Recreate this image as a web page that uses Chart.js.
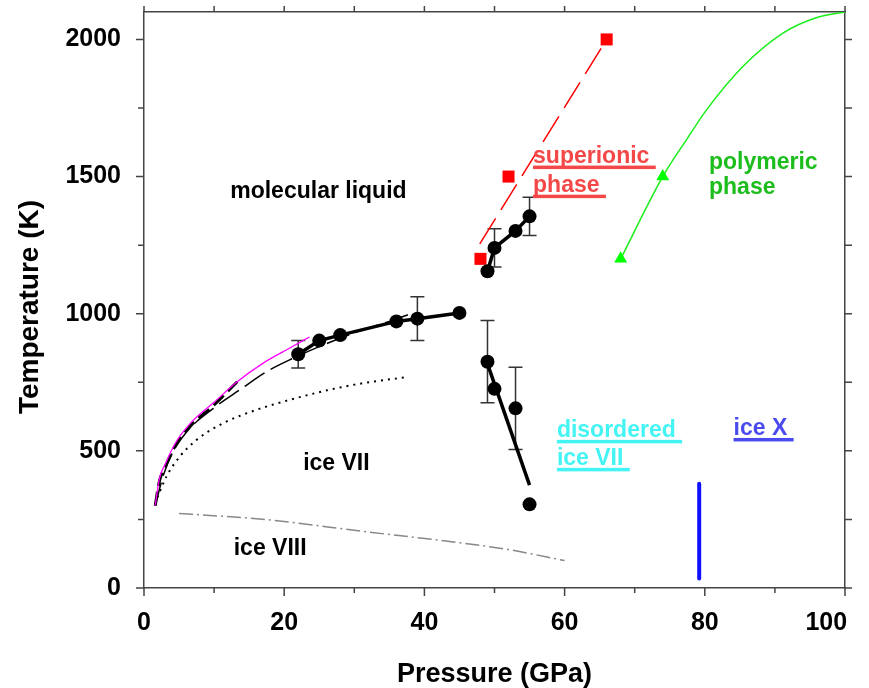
<!DOCTYPE html>
<html>
<head>
<meta charset="utf-8">
<script src="https://cdn.jsdelivr.net/npm/chart.js@4.4.1/dist/chart.umd.min.js"></script>
<style>
  html, body { margin: 0; padding: 0; background: #fff; }
  canvas { display: block; }
</style>
</head>
<body>
<canvas id="c" width="869" height="688"></canvas>
<script>
// pressure (GPa) / temperature (K)

// melting line, black circles with thick line (low pressure part)
var meltP = [22, 25, 28, 36, 39, 45];
var meltT = [852, 902, 922, 972, 982, 1003];
var meltErr = [50, 0, 0, 0, 80, 0];

// upper branch (liquid / superionic)
var upP = [49, 50, 53, 55];
var upT = [1155, 1240, 1302, 1355];
var upErr = [0, 70, 0, 70];

// lower branch (ice VII / disordered ice VII)
var lowP = [49, 50, 53, 55];
var lowT = [825, 726, 655, 305];
var lowErr = [150, 0, 150, 0];
var lowFitP = [49.1, 55];
var lowFitT = [810, 375];

// magenta curve
var magP = [1.6, 2.2, 3.0, 4.4, 6.6, 9.9, 13.2, 17.0, 20.8, 23.6];
var magT = [300, 400, 450, 525, 600, 675, 750, 820, 875, 915];

// heavy dashed curve
var hdP = [1.6, 2.2, 3.0, 4.4, 6.6, 9.9, 13.3];
var hdT = [300, 390, 440, 515, 590, 665, 752];

// thin long-dashed curve
var ldP = [1.6, 2.75, 4.0, 6.1, 9.9, 13.7, 17.5, 21.3, 25, 30, 35, 38.4];
var ldT = [300, 410, 490, 570, 655, 723, 789, 838, 880, 930, 972, 1003];

// dotted curve
var dotP = [1.9, 3.2, 5.1, 7.5, 11.3, 16.1, 20.8, 26.5, 31.3, 37.5];
var dotT = [330, 406, 479, 540, 601, 650, 686, 723, 747, 769];

// ice VII / ice VIII boundary (grey dash-dot)
var g8P = [5, 18, 31, 45, 52, 60];
var g8T = [272, 248, 207, 165, 140, 100];

// superionic (red squares + dashed line)
var supP = [48, 52, 66];
var supT = [1200, 1500, 2000];
var supLineP = [47.9, 66];
var supLineT = [1255, 2000];

// polymeric (green)
var polyP = [68, 74];
var polyT = [1200, 1500];
var polyLineP = [68, 74, 77.4, 80.3, 85.5, 91.2, 96, 100];
var polyLineT = [1200, 1500, 1635, 1745, 1903, 2024, 2080, 2100];

// ice X (blue bar)
var iceXP = [79.2, 79.2];
var iceXT = [35, 380];

var FONT = "'Liberation Sans', Arial, sans-serif";

function pts(xs, ys) {
  return xs.map(function (x, i) { return { x: x, y: ys[i] }; });
}

// region labels: text, anchor (P, T) of the baseline start, colour, underline
var labels = [
  { text: ["molecular liquid"], P: 12.3, T: [1423], color: "#000", u: false },
  { text: ["superionic", "phase"], P: 55.5, T: [1551, 1445], color: "#f44848", u: true },
  { text: ["polymeric", "phase"], P: 80.6, T: [1529, 1438], color: "#1cbd1c", u: false },
  { text: ["ice VII"], P: 22.7, T: [431], color: "#000", u: false },
  { text: ["ice VIII"], P: 12.8, T: [120], color: "#000", u: false },
  { text: ["disordered", "ice VII"], P: 58.9, T: [551, 449], color: "#44f4f4", u: true },
  { text: ["ice X"], P: 84.1, T: [558], color: "#4a4aee", u: true }
];

var errorBars = {
  id: "errorBars",
  beforeDatasetsDraw: function (chart) {
    var ctx = chart.ctx, x = chart.scales.x, y = chart.scales.y;
    var sets = [[meltP, meltT, meltErr], [upP, upT, upErr], [lowP, lowT, lowErr]];
    ctx.save();
    ctx.strokeStyle = "#333";
    ctx.lineWidth = 1.5;
    sets.forEach(function (s) {
      s[0].forEach(function (p, i) {
        var e = s[2][i];
        if (!e) return;
        var px = x.getPixelForValue(p);
        var t = y.getPixelForValue(s[1][i] + e);
        var b = y.getPixelForValue(s[1][i] - e);
        ctx.beginPath();
        ctx.moveTo(px, t); ctx.lineTo(px, b);
        ctx.moveTo(px - 7, t); ctx.lineTo(px + 7, t);
        ctx.moveTo(px - 7, b); ctx.lineTo(px + 7, b);
        ctx.stroke();
      });
    });
    ctx.restore();
  }
};

var regionText = {
  id: "regionText",
  afterDatasetsDraw: function (chart) {
    var ctx = chart.ctx, x = chart.scales.x, y = chart.scales.y;
    ctx.save();
    ctx.font = "bold 23px " + FONT;
    ctx.textAlign = "left";
    ctx.textBaseline = "alphabetic";
    labels.forEach(function (l) {
      ctx.fillStyle = l.color;
      l.text.forEach(function (t, i) {
        var px = x.getPixelForValue(l.P);
        var py = y.getPixelForValue(l.T[i]);
        ctx.fillText(t, px, py);
        if (l.u) {
          var w = ctx.measureText(t + " ").width;
          ctx.fillRect(px, py + 3, w, 3.5);
        }
      });
    });
    ctx.restore();
  }
};

// tick marks on all four sides (long majors, short minors)
var tickMarks = {
  id: "tickMarks",
  afterDraw: function (chart) {
    var ctx = chart.ctx, a = chart.chartArea;
    var x = chart.scales.x, y = chart.scales.y;
    ctx.save();
    ctx.strokeStyle = "#444";
    ctx.lineWidth = 1.5;
    ctx.beginPath();
    x.ticks.forEach(function (t) {
      var px = x.getPixelForValue(t.value);
      var len = t.value % 20 === 0 ? 8 : 5;
      ctx.moveTo(px, a.bottom); ctx.lineTo(px, a.bottom + len);
      ctx.moveTo(px, a.top); ctx.lineTo(px, a.top - 6);
    });
    y.ticks.forEach(function (t) {
      var py = y.getPixelForValue(t.value);
      var len = t.value % 500 === 0 ? 8 : 6;
      ctx.moveTo(a.left, py); ctx.lineTo(a.left - len, py);
      ctx.moveTo(a.right, py); ctx.lineTo(a.right + 7, py);
    });
    ctx.stroke();
    ctx.restore();
  }
};

function fixH(h) {
  return function (s) { s.height = h; s.paddingLeft = 0; s.paddingRight = 0; s.paddingTop = 0; s.paddingBottom = 0; };
}
function fixW(w) {
  return function (s) { s.width = w; s.paddingLeft = 0; s.paddingRight = 0; s.paddingTop = 0; s.paddingBottom = 0; };
}

var tickFont = { family: FONT, size: 25, weight: "bold", lineHeight: 1 };
var axisBorder = { display: true, color: "#444", width: 1.5 };

var chart = new Chart(document.getElementById("c"), {
  type: "scatter",
  data: {
    datasets: [
      { data: pts(upP, upT), showLine: true, borderColor: "#000", borderWidth: 3.5,
        backgroundColor: "#000", pointRadius: 7, pointBorderWidth: 0 },
      { data: pts(lowP, lowT), showLine: false, backgroundColor: "#000",
        pointRadius: 7, pointBorderWidth: 0 },
      { data: pts(lowFitP, lowFitT), showLine: true, borderColor: "#000", borderWidth: 3.5,
        pointRadius: 0 },
      { data: pts(meltP, meltT), showLine: true, borderColor: "#000", borderWidth: 3.5,
        backgroundColor: "#000", pointRadius: 7, pointBorderWidth: 0 },
      { data: pts(supP, supT), showLine: false, pointStyle: "rect", backgroundColor: "#f00",
        pointRadius: 8.5, pointBorderWidth: 0 },
      { data: pts(supLineP, supLineT), showLine: true, borderColor: "#f00", borderWidth: 1.5,
        borderDash: [30, 10], pointRadius: 0 },
      { data: pts(polyP, polyT), showLine: false, pointStyle: "triangle", backgroundColor: "#0f0",
        borderColor: "#0f0", pointRadius: 7.5, pointBorderWidth: 0 },
      { data: pts(polyLineP, polyLineT), showLine: true, borderColor: "#1aee1a", borderWidth: 1.5,
        cubicInterpolationMode: "monotone", pointRadius: 0 },
      { data: pts(iceXP, iceXT), showLine: true, borderColor: "#1010ff", borderWidth: 4,
        borderCapStyle: "round", pointRadius: 0 },
      { data: pts(magP, magT), showLine: true, borderColor: "#ff00ff", borderWidth: 1.3,
        cubicInterpolationMode: "monotone", pointRadius: 0 },
      { data: pts(hdP, hdT), showLine: true, borderColor: "#000", borderWidth: 3,
        borderDash: [14, 6], cubicInterpolationMode: "monotone", pointRadius: 0 },
      { data: pts(ldP, ldT), showLine: true, borderColor: "#000", borderWidth: 1.5,
        borderDash: [24, 7], cubicInterpolationMode: "monotone", pointRadius: 0 },
      { data: pts(dotP, dotT), showLine: true, borderColor: "#000", borderWidth: 2,
        borderDash: [2, 5], cubicInterpolationMode: "monotone", pointRadius: 0 },
      { data: pts(g8P, g8T), showLine: true, borderColor: "#888", borderWidth: 1.5,
        borderDash: [14, 4, 2, 4], cubicInterpolationMode: "monotone", pointRadius: 0 }
    ]
  },
  options: {
    responsive: false,
    animation: false,
    layout: { padding: 0 },
    plugins: { legend: { display: false }, tooltip: { enabled: false } },
    scales: {
      x: {
        type: "linear", position: "bottom", min: 0, max: 100,
        afterFit: fixH(100),
        border: axisBorder,
        grid: { drawOnChartArea: false, tickLength: 8, tickColor: "rgba(0,0,0,0)" },
        ticks: { stepSize: 10, autoSkip: false, maxRotation: 0, includeBounds: false,
          padding: 15, color: "#000", font: tickFont,
          callback: function (v) {
            if (v % 20 !== 0) return "";
            // last label sits left of the axis end, as in the original
            return v === 100 ? "100\u2002\u2002\u2002" : v;
          } },
        title: { display: true, text: "Pressure (GPa)", color: "#000",
          font: { family: FONT, size: 27, weight: "bold", lineHeight: 1 },
          padding: { top: 0, bottom: 0 } }
      },
      y: {
        type: "linear", position: "left", min: 0, max: 2100,
        afterFit: fixW(144),
        border: axisBorder,
        grid: { drawOnChartArea: false, tickLength: 8, tickColor: "rgba(0,0,0,0)" },
        ticks: { stepSize: 250, autoSkip: false, includeBounds: false,
          padding: 15, color: "#000", font: tickFont,
          callback: function (v) { return v % 500 === 0 ? v : ""; } },
        title: { display: true, text: "Temperature (K)\u2002", color: "#000",
          font: { family: FONT, size: 28, weight: "bold", lineHeight: 1 },
          padding: { top: 16, bottom: 0 } }
      },
      x2: {
        type: "linear", position: "top", min: 0, max: 100,
        afterFit: fixH(12),
        border: axisBorder,
        grid: { display: false },
        ticks: { display: false }
      },
      y2: {
        type: "linear", position: "right", min: 0, max: 2100,
        afterFit: fixW(24),
        border: axisBorder,
        grid: { display: false },
        ticks: { display: false }
      }
    }
  },
  plugins: [errorBars, regionText, tickMarks]
});
</script>
</body>
</html>
